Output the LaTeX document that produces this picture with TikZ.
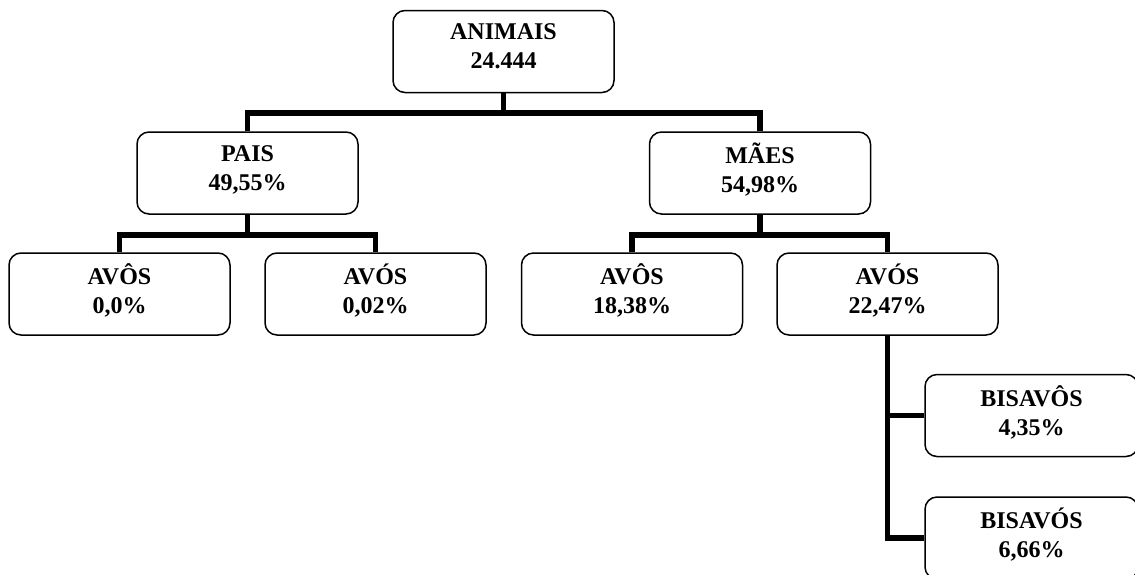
\documentclass[tikz,border=0pt]{standalone}
\usepackage{fontspec}
\setmainfont{Liberation Serif}
\usepackage{tikz}
\usetikzlibrary{positioning}

\tikzset{
  caixa/.style={draw, line width=0.75pt, rounded corners=6pt, fill=white,
    minimum width=110.5pt, minimum height=41pt, align=center, text depth=5pt,
    font=\fontsize{12pt}{14.5pt}\selectfont\bfseries},
  liga/.style={line width=2.6pt}
}

\begin{document}
\begin{tikzpicture}[x=0.5pt,y=-0.5pt]
        \useasboundingbox (0,0) rectangle (1135,574);
        % caixas
        \node[caixa] (animais) at (503.5,51.5) {ANIMAIS\\24.444};
        \node[caixa] (pais) at (247.5,173) {PAIS\\49,55\%};
        \node[caixa] (maes) at (760,173) {MÃES\\54,98\%};
        \node[caixa] (avoA) at (119.5,294) {AVÔS\\0,0\%};
        \node[caixa] (avoB) at (375.5,294) {AVÓS\\0,02\%};
        \node[caixa] (avoC) at (632,294) {AVÔS\\18,38\%};
        \node[caixa] (avoD) at (887.5,294) {AVÓS\\22,47\%};
        \node[caixa, minimum width=106.5pt] (bisA) at (1031.5,415.5) {BISAVÔS\\4,35\%};
        \node[caixa, minimum width=106.5pt] (bisB) at (1031.5,538) {BISAVÓS\\6,66\%};
        % ligacoes
        \coordinate (j1) at (503.5,113);
        \coordinate (j2) at (247.5,235);
        \coordinate (j3) at (760,235);
        \draw[liga] (animais.south) -- (j1);
        \draw[liga] (pais.north) |- (j1) -| (maes.north);
        \draw[liga] (pais.south) -- (j2);
        \draw[liga] (avoA.north) |- (j2) -| (avoB.north);
        \draw[liga] (maes.south) -- (j3);
        \draw[liga] (avoC.north) |- (j3) -| (avoD.north);
        \draw[liga] (avoD.south) |- (bisA.west);
        \draw[liga] (avoD.south) |- (bisB.west);
        \end{tikzpicture}
\end{document}
